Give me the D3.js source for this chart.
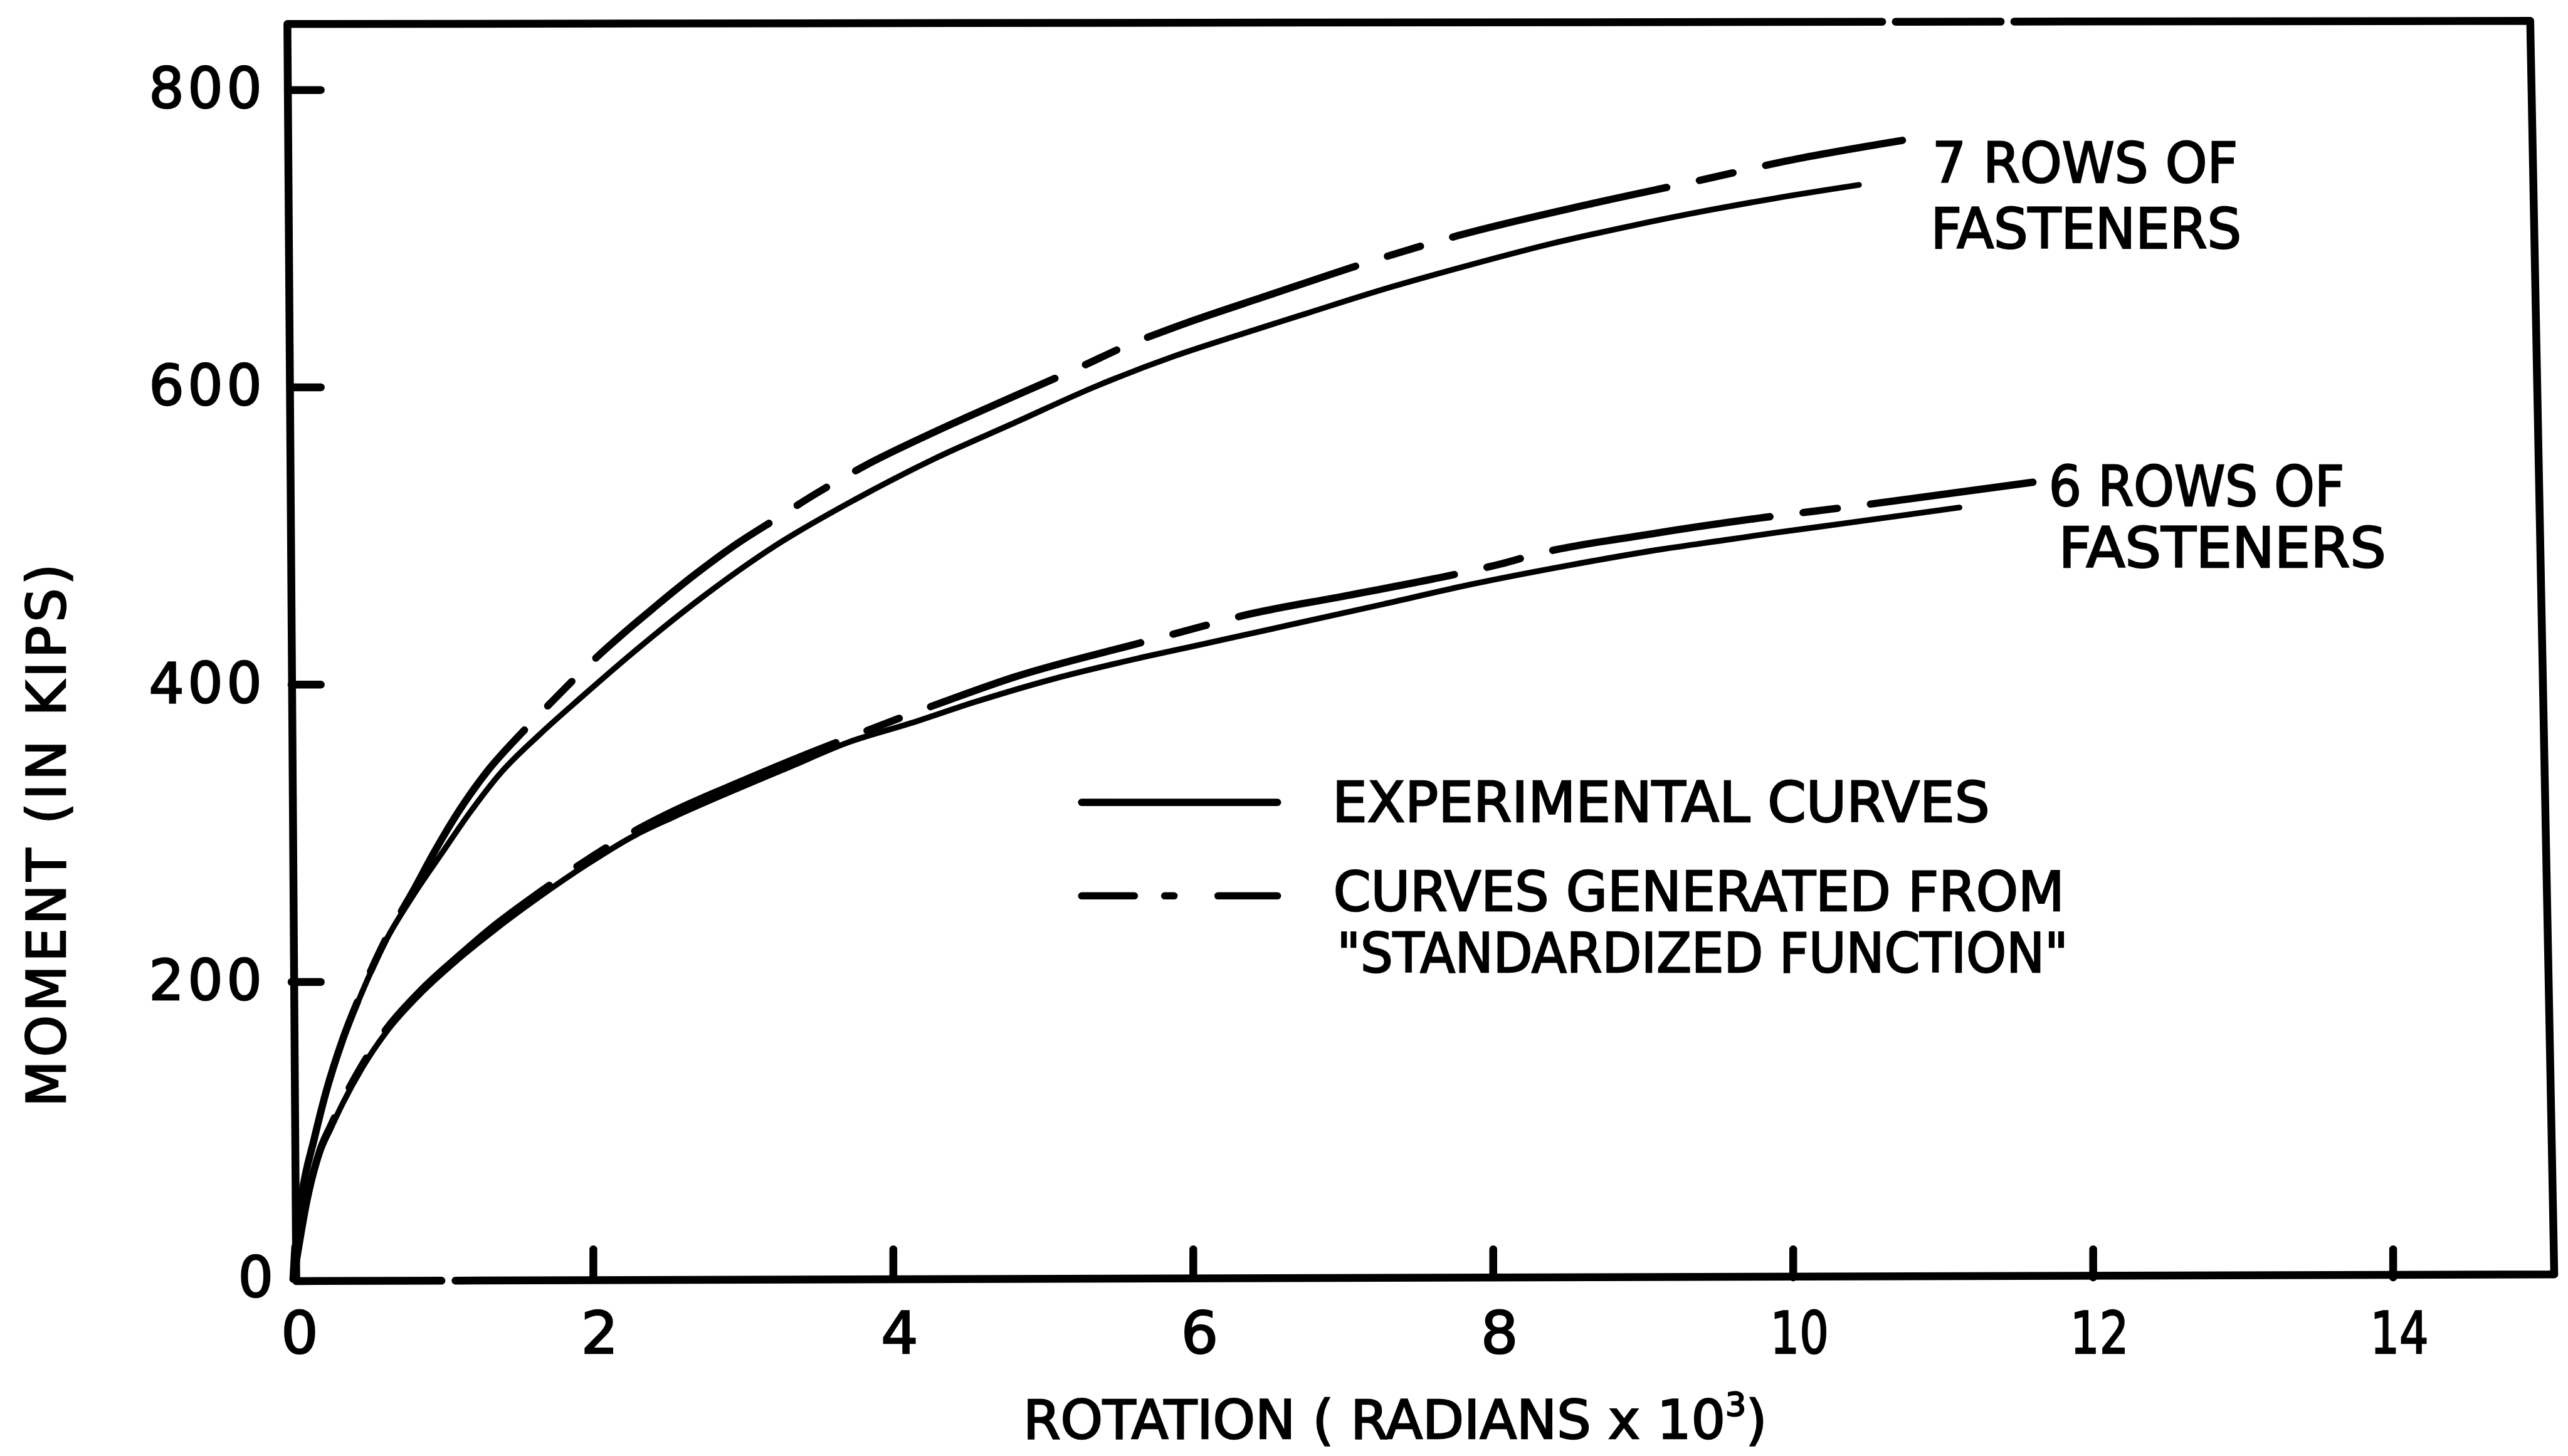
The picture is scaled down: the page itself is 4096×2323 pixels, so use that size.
<!DOCTYPE html>
<html>
<head>
<meta charset="utf-8">
<script src="https://cdn.jsdelivr.net/npm/d3@7"></script>
<style>
  html, body { margin: 0; padding: 0; background: #fff; }
  svg { display: block; }
  text { font-family: "DejaVu Sans", "Liberation Sans", sans-serif; fill: #000; stroke: #000; stroke-width: 3; }
</style>
</head>
<body>
<svg id="chart"></svg>
<script>
// Moment-rotation behaviour of fastened connections:
// experimental curves against curves generated from the standardized function.

// Axis ticks
const rotationTicks = [0, 2, 4, 6, 8, 10, 12, 14];      // radians x 10^3
const momentTicks = [0, 200, 400, 600, 800];            // kips

// [rotation (radians x 10^3), moment (kips)]
const rows7Experimental = [
  [0, 0], [0.01, 18], [0.06, 58], [0.14, 93], [0.22, 125], [0.33, 160], [0.46, 193],
  [0.62, 228], [0.80, 258], [0.995, 287], [1.18, 314], [1.38, 340], [1.64, 366],
  [1.94, 393], [2.25, 420], [2.68, 455], [3.21, 493], [3.74, 524], [4.28, 552],
  [4.81, 576], [5.34, 600], [5.88, 621], [6.24, 633], [6.77, 650], [7.31, 667],
  [7.84, 682], [8.37, 696], [8.90, 708], [9.44, 719], [9.88, 727], [10.44, 736]
];
const rows7Standardized = [
  [0, 0], [0.01, 18], [0.06, 58], [0.14, 94], [0.22, 126], [0.33, 161], [0.46, 194],
  [0.62, 229], [0.80, 261], [0.94, 287], [1.10, 314], [1.29, 341], [1.53, 368],
  [1.78, 394], [2.0, 416], [2.41, 452], [2.68, 474], [2.95, 494], [3.23, 512],
  [3.48, 528], [3.81, 547], [4.28, 570], [4.81, 594], [5.26, 614], [5.56, 628],
  [5.87, 640], [6.51, 662], [7.23, 686], [7.77, 702], [8.64, 723], [9.42, 740],
  [9.95, 752], [10.73, 766]
];
const rows6Experimental = [
  [0, 0], [0.024, 13], [0.09, 50], [0.18, 85], [0.25, 101], [0.33, 118], [0.46, 142],
  [0.62, 166], [0.86, 193], [1.10, 215], [1.32, 233], [1.64, 257], [1.96, 279],
  [2.27, 298], [2.54, 311], [2.90, 327], [3.30, 344], [3.70, 361], [4.12, 374],
  [4.54, 388], [5.08, 404], [5.61, 417], [6.06, 427], [6.51, 437], [7.27, 454],
  [7.84, 467], [8.50, 480], [9.13, 491], [9.54, 497], [9.88, 502], [10.32, 508],
  [11.11, 519]
];
const rows6Standardized = [
  [0, 0], [0.024, 14], [0.09, 52], [0.18, 87], [0.25, 103], [0.33, 120], [0.46, 144],
  [0.62, 168], [0.86, 195], [1.10, 217], [1.32, 236], [1.64, 260], [1.96, 282],
  [2.27, 301], [2.54, 315], [2.90, 331], [3.30, 348], [3.70, 364], [4.33, 388],
  [4.81, 405], [5.65, 428], [6.06, 439], [6.28, 445], [7.04, 460], [7.745, 474],
  [8.05, 481], [8.305, 488], [9.04, 501], [9.785, 512], [10.34, 519], [11.60, 536]
];

const seriesLabels = [["7 ROWS  OF", "FASTENERS"], ["6 ROWS OF", "FASTENERS"]];
const legendLabels = ["EXPERIMENTAL CURVES", "CURVES GENERATED FROM", "\"STANDARDIZED FUNCTION\""];

// ---------------------------------------------------------------------------
const W = 4917, H = 2789;
const svg = d3.select("#chart")
  .attr("width", 4096).attr("height", 2323)
  .attr("viewBox", `0 0 ${W} ${H}`);
svg.append("rect").attr("width", W).attr("height", H).attr("fill", "#fff");

const x = d3.scaleLinear().domain([0, 14]).range([561, 4582]);
const y = d3.scaleLinear().domain([0, 800]).range([2450, 172]);

// Hand-ruled border (slightly out of square), with the small breaks in the rule
const TL = [550, 46], TR = [4845, 40], BR = [4891, 2441], BL = [567, 2454];
const onEdge = (a, b, px) => {
  const t = (px - a[0]) / (b[0] - a[0]);
  return [a[0] + (b[0] - a[0]) * t, a[1] + (b[1] - a[1]) * t];
};
const framePaths = [
  [onEdge(TL, TR, 3604), TL, BL, onEdge(BL, BR, 845)],
  [onEdge(BL, BR, 872), BR, TR, onEdge(TL, TR, 3857)],
  [onEdge(TL, TR, 3831), onEdge(TL, TR, 3630)]
];
svg.append("g")
  .attr("fill", "none").attr("stroke", "#000").attr("stroke-width", 15)
  .attr("stroke-linecap", "round").attr("stroke-linejoin", "round")
  .selectAll("path").data(framePaths).join("path")
  .attr("d", d3.line());

// Y axis: inward ticks
const yAxisG = svg.append("g")
  .attr("transform", "translate(558,0)")
  .call(d3.axisLeft(y).tickValues(momentTicks).tickSize(-56).tickPadding(50));
yAxisG.select(".domain").remove();
yAxisG.attr("font-family", null).attr("font-size", null);
yAxisG.selectAll(".tick line")
  .attr("stroke", "#000").attr("stroke-width", 15).attr("stroke-linecap", "round");
yAxisG.selectAll(".tick").filter(d => d === 0).select("line").remove();
yAxisG.selectAll(".tick text")
  .attr("fill", "#000").attr("font-size", 106).attr("letter-spacing", 7);
yAxisG.selectAll(".tick").filter(d => d === 0).select("text").attr("dx", 22);

// X axis: inward ticks
const xAxisG = svg.append("g")
  .attr("transform", "translate(0,2447)")
  .call(d3.axisBottom(x).tickValues(rotationTicks).tickSize(-54).tickPadding(66));
xAxisG.select(".domain").remove();
xAxisG.attr("font-family", null).attr("font-size", null);
xAxisG.selectAll(".tick line")
  .attr("stroke", "#000").attr("stroke-width", 15).attr("stroke-linecap", "round");
xAxisG.selectAll(".tick").filter(d => d === 0).select("line").remove();
xAxisG.selectAll(".tick text")
  .attr("fill", "#000").attr("font-size", 112).attr("dx", 12)
  .each(function (d) {
    if (String(d).length > 1) {
      d3.select(this).attr("textLength", 112).attr("lengthAdjust", "spacingAndGlyphs");
    }
  });

// Axis titles
svg.append("text")
  .attr("x", 1959).attr("y", 2756).attr("font-size", 103)
  .text("ROTATION ( RADIANS x 10")
  .call(t => t.append("tspan").attr("dy", -44).attr("font-size", 62).text("3"))
  .call(t => t.append("tspan").attr("dy", 44).attr("font-size", 103).text(")"));

svg.append("text")
  .attr("transform", "translate(124,1600) rotate(-90)")
  .attr("text-anchor", "middle").attr("font-size", 102)
  .attr("textLength", 1040).attr("lengthAdjust", "spacing")
  .text("MOMENT (IN KIPS)");

// Curves
const line = d3.line()
  .x(d => x(d[0]))
  .y(d => y(d[1]))
  .curve(d3.curveMonotoneX);

const dashPattern = [421, 64, 66, 64];
const dashPeriod = d3.sum(dashPattern);

// arc length along a path where the curve reaches a given rotation
function lengthAtRotation(node, rot) {
  const target = x(rot);
  let lo = 0, hi = node.getTotalLength();
  for (let i = 0; i < 40; i++) {
    const mid = (lo + hi) / 2;
    if (node.getPointAtLength(mid).x < target) lo = mid; else hi = mid;
  }
  return lo;
}

const series = [
  { data: rows7Experimental, dashed: false },
  { data: rows6Experimental, dashed: false },
  { data: rows7Standardized, dashed: true, dashFrom: 2.0 },
  { data: rows6Standardized, dashed: true, dashFrom: 6.28 }
];

const curves = svg.append("g").attr("fill", "none").attr("stroke", "#000")
  .attr("stroke-linecap", "round").attr("stroke-linejoin", "round");

series.forEach(s => {
  const p = curves.append("path")
    .attr("d", line(s.data))
    .attr("stroke-width", s.dashed ? 14 : 11);
  if (s.dashed) {
    const L0 = lengthAtRotation(p.node(), s.dashFrom);
    const offset = (dashPeriod - ((L0 + 7) % dashPeriod)) % dashPeriod;
    p.attr("stroke-dasharray", dashPattern.join(" "))
     .attr("stroke-dashoffset", offset);
  }
});

// Series annotations
const annot = svg.append("g").attr("font-size", 106).style("white-space", "pre");
[
  { text: seriesLabels[0][0], x: 3700, y: 349, len: 585 },
  { text: seriesLabels[0][1], x: 3697, y: 475, len: 595 },
  { text: seriesLabels[1][0], x: 3923, y: 969, len: 566 },
  { text: seriesLabels[1][1], x: 3942, y: 1087, len: 627 }
].forEach(a => {
  annot.append("text")
    .attr("x", a.x).attr("y", a.y)
    .attr("textLength", a.len).attr("lengthAdjust", "spacingAndGlyphs")
    .text(a.text);
});

// Legend
const legend = svg.append("g");
legend.append("line")
  .attr("x1", 2071).attr("x2", 2446).attr("y1", 1537).attr("y2", 1537)
  .attr("stroke", "#000").attr("stroke-width", 14).attr("stroke-linecap", "round");
legend.append("line")
  .attr("x1", 2071).attr("x2", 2446).attr("y1", 1716).attr("y2", 1716)
  .attr("stroke", "#000").attr("stroke-width", 14).attr("stroke-linecap", "round")
  .attr("stroke-dasharray", "101 58 18 84 114");
[
  { text: legendLabels[0], x: 2551, y: 1574, len: 1259, size: 107 },
  { text: legendLabels[1], x: 2553, y: 1745, len: 1400, size: 104 },
  { text: legendLabels[2], x: 2560, y: 1862, len: 1400, size: 104 }
].forEach(l => {
  legend.append("text")
    .attr("x", l.x).attr("y", l.y).attr("font-size", l.size)
    .attr("textLength", l.len).attr("lengthAdjust", "spacingAndGlyphs")
    .text(l.text);
});
</script>
</body>
</html>
